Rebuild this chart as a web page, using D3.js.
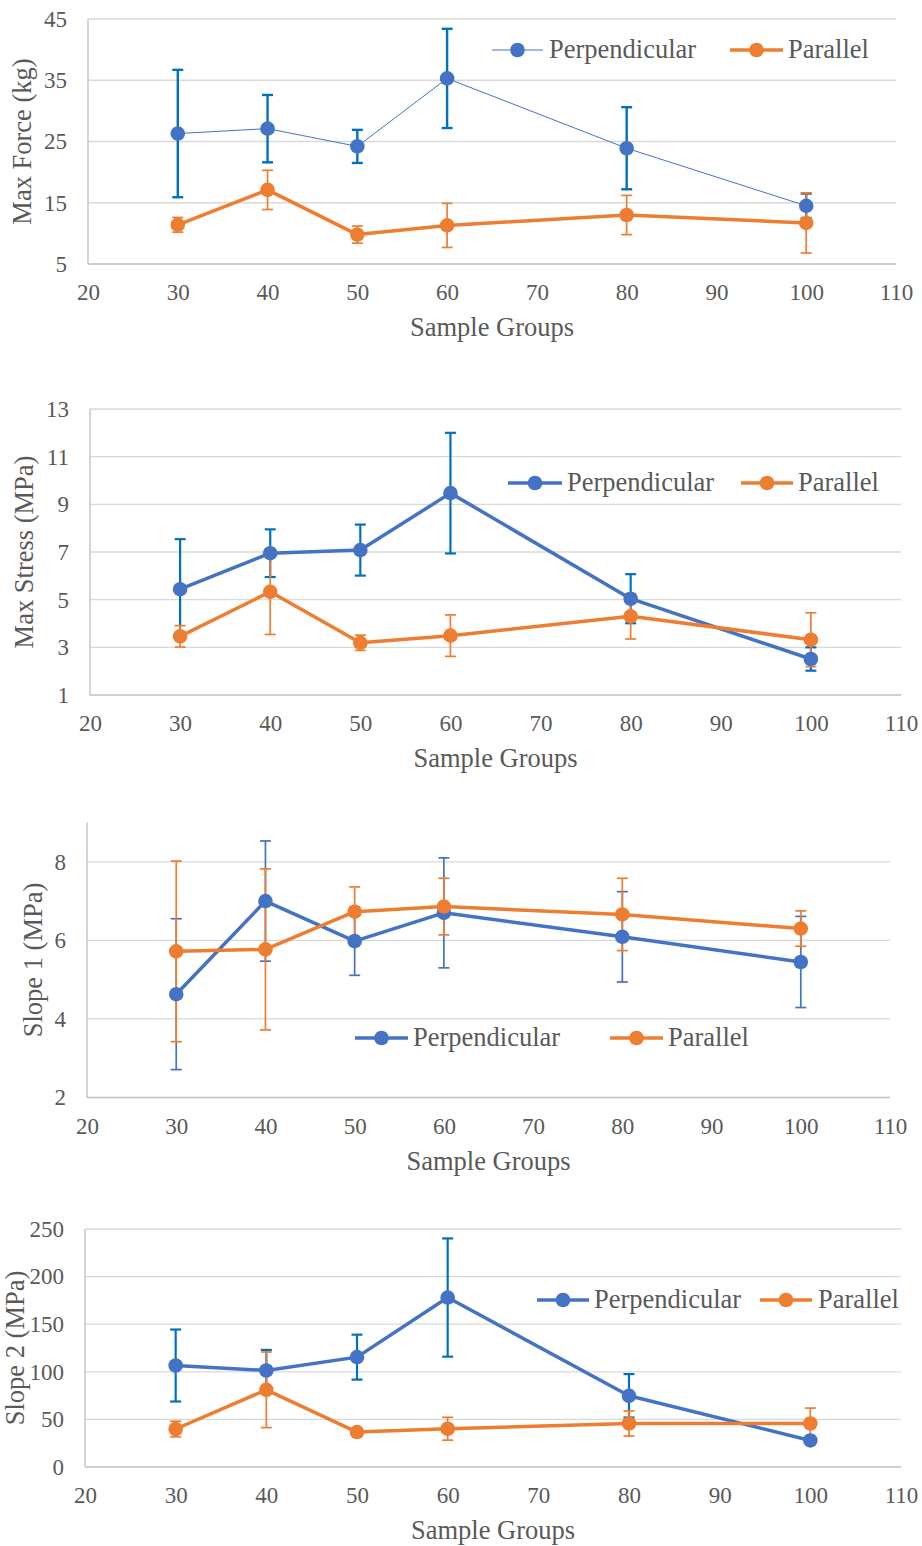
<!DOCTYPE html>
<html>
<head>
<meta charset="utf-8">
<script src="https://cdn.jsdelivr.net/npm/d3@7"></script>
<style>
  html, body { margin: 0; padding: 0; background: #fff; }
  svg { display: block; }
  svg text { font-family: "Liberation Serif", "Times New Roman", serif !important; fill: #595959; }
</style>
</head>
<body>
<svg id="chart" width="922" height="1546"></svg>
<script>
// ---------- data ----------
const sampleGroups = [30, 40, 50, 60, 80, 100];
const seriesNames = ["Perpendicular", "Parallel"];
const xTicks = [20, 30, 40, 50, 60, 70, 80, 90, 100, 110];
const xLabel = "Sample Groups";

const forcePerp    = [26.3, 27.1, 24.2, 35.3, 23.9, 14.5];
const forcePerpErr = [10.4, 5.5, 2.7, 8.1, 6.7, 2.0];
const forcePar     = [11.4, 17.1, 9.8, 11.3, 13.0, 11.7];
const forceParErr  = [1.2, 3.2, 1.4, 3.6, 3.2, 4.9];
const forceTicks   = [5, 15, 25, 35, 45];

const stressPerp    = [5.44, 6.95, 7.08, 9.47, 5.04, 2.51];
const stressPerpErr = [2.1, 1.0, 1.07, 2.53, 1.03, 0.49];
const stressPar     = [3.46, 5.33, 3.19, 3.49, 4.30, 3.32];
const stressParErr  = [0.45, 1.79, 0.32, 0.87, 0.95, 1.13];
const stressTicks   = [1, 3, 5, 7, 9, 11, 13];

const slope1Perp    = [4.63, 7.0, 5.98, 6.7, 6.09, 5.45];
const slope1PerpErr = [1.92, 1.53, 0.87, 1.4, 1.15, 1.16];
const slope1Par     = [5.72, 5.77, 6.73, 6.86, 6.66, 6.3];
const slope1ParErr  = [2.3, 2.05, 0.63, 0.72, 0.92, 0.45];
const slope1Ticks   = [2, 4, 6, 8];

const slope2Perp    = [106.6, 101.4, 115.4, 178, 74.8, 27.9];
const slope2PerpErr = [37.8, 21.6, 23.6, 62.1, 22.8, 3];
const slope2Par     = [39.9, 81.1, 36.7, 40.2, 45.7, 45.7];
const slope2ParErr  = [8.2, 39.7, 4, 12, 13.2, 16.2];
const slope2Ticks   = [0, 50, 100, 150, 200, 250];

// ---------- panel layout ----------
const BLUE = "#4472C4", ORANGE = "#ED7D31", ERR_BLUE = "#0070C0";
const panels = [
  { ylabel: "Max Force (kg)", perp: forcePerp, perpErr: forcePerpErr, par: forcePar, parErr: forceParErr,
    yTicks: forceTicks, yDomain: [5, 45], left: 88, right: 896, top: 19, bottom: 264,
    perpWidth: 1, perpErrColor: ERR_BLUE, perpErrWidth: 2.4, parErrWidth: 1.7,
    ylabelX: 31, legend: { y: 50, x1: 492, x2: 543, tx1: 549, px1: 730, px2: 783, tx2: 788 } },
  { ylabel: "Max Stress (MPa)", perp: stressPerp, perpErr: stressPerpErr, par: stressPar, parErr: stressParErr,
    yTicks: stressTicks, yDomain: [1, 13], left: 90, right: 901, top: 409, bottom: 695,
    perpWidth: 3.5, perpErrColor: ERR_BLUE, perpErrWidth: 2.2, parErrWidth: 1.7,
    ylabelX: 33, legend: { y: 483, x1: 508, x2: 562, tx1: 567, px1: 741, px2: 793, tx2: 798 } },
  { ylabel: "Slope 1 (MPa)", perp: slope1Perp, perpErr: slope1PerpErr, par: slope1Par, parErr: slope1ParErr,
    yTicks: slope1Ticks, yDomain: [2, 9], left: 87, right: 890, top: 822.5, bottom: 1097.5,
    perpWidth: 3.5, perpErrColor: BLUE, perpErrWidth: 1.7, parErrWidth: 1.7,
    ylabelX: 42, legend: { y: 1038, x1: 355, x2: 408, tx1: 413, px1: 610, px2: 663, tx2: 668 } },
  { ylabel: "Slope 2 (MPa)", perp: slope2Perp, perpErr: slope2PerpErr, par: slope2Par, parErr: slope2ParErr,
    yTicks: slope2Ticks, yDomain: [0, 250], left: 85, right: 901, top: 1229, bottom: 1467,
    perpWidth: 3.5, perpErrColor: ERR_BLUE, perpErrWidth: 2.2, parErrWidth: 1.7,
    ylabelX: 24, legend: { y: 1300, x1: 537, x2: 589, tx1: 594, px1: 760, px2: 812, tx2: 818 } }
];

const TICK_FONT = 23, TITLE_FONT = 26.5, R = 7.3, CAP = 5.5;
const svg = d3.select("#chart");

panels.forEach(p => {
  const x = d3.scaleLinear().domain([20, 110]).range([p.left, p.right]);
  const y = d3.scaleLinear().domain(p.yDomain).range([p.bottom, p.top]);
  const g = svg.append("g");

  // gridlines
  g.selectAll("line.grid").data(p.yTicks.filter(t => t !== p.yDomain[0])).enter()
    .append("line").attr("class", "grid")
    .attr("x1", p.left).attr("x2", p.right)
    .attr("y1", d => y(d)).attr("y2", d => y(d))
    .attr("stroke", "#d9d9d9").attr("stroke-width", 1.3);

  // axis lines
  g.append("line").attr("x1", p.left).attr("x2", p.left).attr("y1", p.top).attr("y2", p.bottom)
    .attr("stroke", "#bfbfbf").attr("stroke-width", 1.3);
  g.append("line").attr("x1", p.left).attr("x2", p.right).attr("y1", p.bottom).attr("y2", p.bottom)
    .attr("stroke", "#bfbfbf").attr("stroke-width", 1.3);

  // y axis labels
  const ya = g.append("g").attr("transform", `translate(${p.left},0)`)
    .call(d3.axisLeft(y).tickValues(p.yTicks).tickSize(0).tickPadding(21).tickFormat(d3.format("d")));
  ya.attr("font-family", null).attr("font-size", null);
  ya.select(".domain").remove();
  ya.selectAll("text").style("font-size", TICK_FONT + "px").attr("fill", "#595959");

  // x axis labels
  const xa = g.append("g").attr("transform", `translate(0,${p.bottom})`)
    .call(d3.axisBottom(x).tickValues(xTicks).tickSize(0).tickPadding(20).tickFormat(d3.format("d")));
  xa.attr("font-family", null).attr("font-size", null);
  xa.select(".domain").remove();
  xa.selectAll("text").style("font-size", TICK_FONT + "px").attr("fill", "#595959");

  // axis titles
  g.append("text").attr("x", (p.left + p.right) / 2).attr("y", p.bottom + 72)
    .attr("text-anchor", "middle").style("font-size", TITLE_FONT + "px").text(xLabel);
  g.append("text").attr("transform", `translate(${p.ylabelX},${(p.top + p.bottom) / 2}) rotate(-90)`)
    .attr("text-anchor", "middle").style("font-size", TITLE_FONT + "px").text(p.ylabel);

  const line = d3.line().x(d => x(d.x)).y(d => y(d.v));
  const mk = (vals, errs) => sampleGroups.map((sx, i) => ({ x: sx, v: vals[i], e: errs[i] }));
  const perpData = mk(p.perp, p.perpErr);
  const parData = mk(p.par, p.parErr);

  // lines
  g.append("path").datum(perpData).attr("d", line).attr("fill", "none")
    .attr("stroke", BLUE).attr("stroke-width", p.perpWidth).attr("stroke-linejoin", "round");
  g.append("path").datum(parData).attr("d", line).attr("fill", "none")
    .attr("stroke", ORANGE).attr("stroke-width", 3.5).attr("stroke-linejoin", "round");

  // error bars
  const errBars = (data, color, w) => {
    const eg = g.append("g").attr("stroke", color).attr("stroke-width", w);
    data.forEach(d => {
      eg.append("line").attr("x1", x(d.x)).attr("x2", x(d.x)).attr("y1", y(d.v - d.e)).attr("y2", y(d.v + d.e));
      eg.append("line").attr("x1", x(d.x) - CAP).attr("x2", x(d.x) + CAP).attr("y1", y(d.v + d.e)).attr("y2", y(d.v + d.e));
      eg.append("line").attr("x1", x(d.x) - CAP).attr("x2", x(d.x) + CAP).attr("y1", y(d.v - d.e)).attr("y2", y(d.v - d.e));
    });
  };
  errBars(perpData, p.perpErrColor, p.perpErrWidth);
  errBars(parData, ORANGE, p.parErrWidth);

  // markers
  g.selectAll("circle.perp").data(perpData).enter().append("circle")
    .attr("cx", d => x(d.x)).attr("cy", d => y(d.v)).attr("r", R).attr("fill", BLUE);
  g.selectAll("circle.par").data(parData).enter().append("circle")
    .attr("cx", d => x(d.x)).attr("cy", d => y(d.v)).attr("r", R).attr("fill", ORANGE);

  // legend
  const L = p.legend;
  g.append("line").attr("x1", L.x1).attr("x2", L.x2).attr("y1", L.y).attr("y2", L.y)
    .attr("stroke", BLUE).attr("stroke-width", p.perpWidth);
  g.append("circle").attr("cx", (L.x1 + L.x2) / 2).attr("cy", L.y).attr("r", R).attr("fill", BLUE);
  g.append("text").attr("x", L.tx1).attr("y", L.y + 8).style("font-size", TITLE_FONT + "px").text(seriesNames[0]);
  g.append("line").attr("x1", L.px1).attr("x2", L.px2).attr("y1", L.y).attr("y2", L.y)
    .attr("stroke", ORANGE).attr("stroke-width", 3.5);
  g.append("circle").attr("cx", (L.px1 + L.px2) / 2).attr("cy", L.y).attr("r", R).attr("fill", ORANGE);
  g.append("text").attr("x", L.tx2).attr("y", L.y + 8).style("font-size", TITLE_FONT + "px").text(seriesNames[1]);
});
</script>
</body>
</html>
